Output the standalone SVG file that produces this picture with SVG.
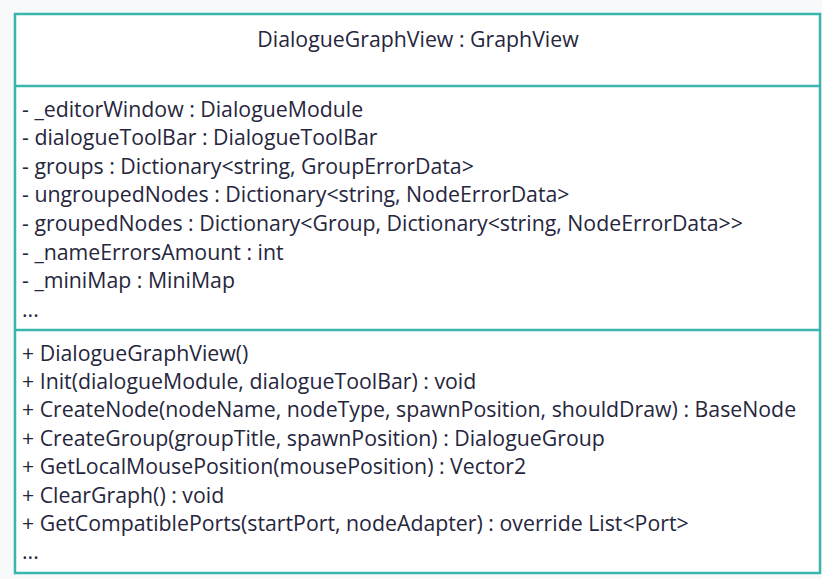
<svg xmlns="http://www.w3.org/2000/svg" width="822" height="579" viewBox="0 0 822 579">
  <style>
    .bg { fill: #f8f9fb; }
    .box { fill: #ffffff; stroke: #38b6ae; stroke-width: 2.5; }
    .sep { stroke: #38b6ae; stroke-width: 2.5; }
    text { font-family: "Open Sans", "Noto Sans", sans-serif; font-size: 21.3px; fill: #26263d; }
    .title { text-anchor: middle; }
  </style>
  <rect class="bg" x="0" y="0" width="822" height="579"/>
  <g id="DialogueGraphView">
    <rect class="box" x="15" y="14" width="805" height="559"/>
    <line class="sep" x1="15" y1="86" x2="820" y2="86"/>
    <line class="sep" x1="15" y1="330" x2="820" y2="330"/>
    <text class="title" x="418" y="47">DialogueGraphView : GraphView</text>
    <g id="attributes">
      <text x="22" y="116.5">- _editorWindow : DialogueModule</text>
      <text x="22" y="145.1">- dialogueToolBar : DialogueToolBar</text>
      <text x="22" y="173.7">- groups : Dictionary&lt;string, GroupErrorData&gt;</text>
      <text x="22" y="202.3">- ungroupedNodes : Dictionary&lt;string, NodeErrorData&gt;</text>
      <text x="22" y="230.9">- groupedNodes : Dictionary&lt;Group, Dictionary&lt;string, NodeErrorData&gt;&gt;</text>
      <text x="22" y="259.5">- _nameErrorsAmount : int</text>
      <text x="22" y="288.1">- _miniMap : MiniMap</text>
      <text x="22" y="316.7">...</text>
    </g>
    <g id="operations">
      <text x="22" y="360.5">+ DialogueGraphView()</text>
      <text x="22" y="388.9">+ Init(dialogueModule, dialogueToolBar) : void</text>
      <text x="22" y="417.3">+ CreateNode(nodeName, nodeType, spawnPosition, shouldDraw) : BaseNode</text>
      <text x="22" y="445.7">+ CreateGroup(groupTitle, spawnPosition) : DialogueGroup</text>
      <text x="22" y="474.1">+ GetLocalMousePosition(mousePosition) : Vector2</text>
      <text x="22" y="502.5">+ ClearGraph() : void</text>
      <text x="22" y="530.9">+ GetCompatiblePorts(startPort, nodeAdapter) : override List&lt;Port&gt;</text>
      <text x="22" y="559.3">...</text>
    </g>
  </g>
</svg>
